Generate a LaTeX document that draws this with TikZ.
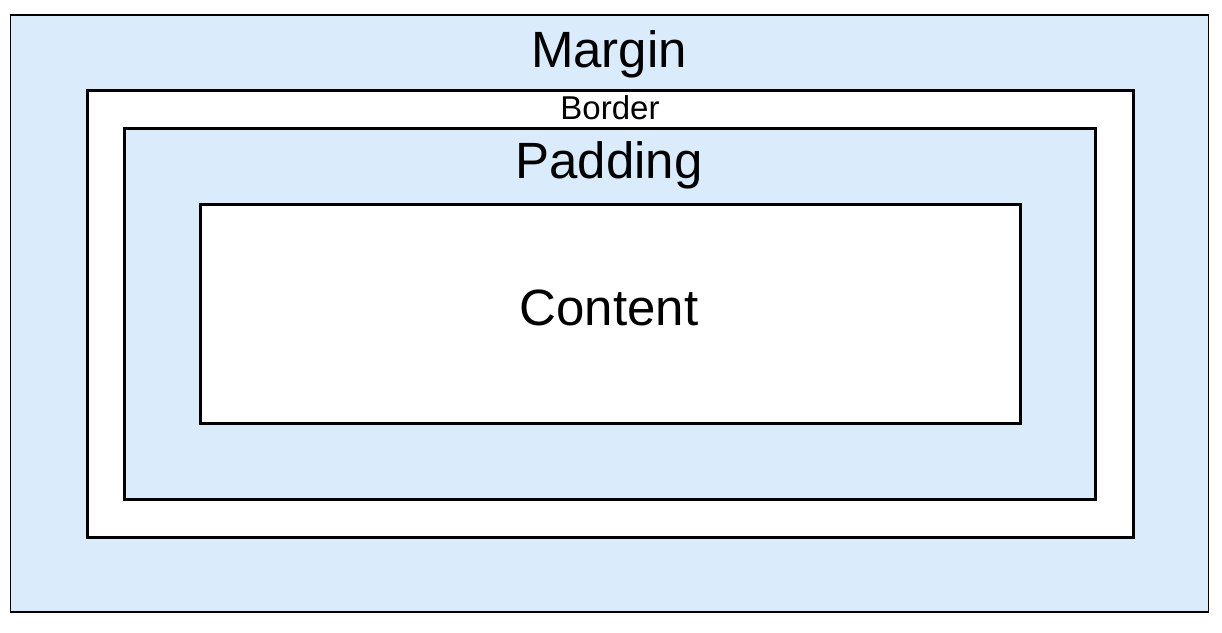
\documentclass[tikz,border=0pt]{standalone}
\usepackage{fontspec}
\setmainfont{Liberation Sans}
\definecolor{boxblue}{RGB}{218,235,252}
\tikzset{
  layer/.style={draw=black, line width=3pt},
  biglabel/.style={anchor=base, font=\fontsize{51}{54}\selectfont, inner sep=0pt},
  smalllabel/.style={anchor=base, font=\fontsize{33}{35}\selectfont, inner sep=0pt}
}
\begin{document}
\begin{tikzpicture}[x=1pt,y=-1pt]
\useasboundingbox (0,0) rectangle (1222,632);
\fill[white] (0,0) rectangle (1222,632);

\path[fill=boxblue,draw=black,line width=1.5pt] (10.5,15) rectangle (1208.5,612);
\path[fill=white,layer] (87,90) rectangle (1133,537);
\path[fill=boxblue,layer] (124,128) rectangle (1095,499);
\path[fill=white,layer] (200,204) rectangle (1020,423);

\node[biglabel] (margin) at (609,67) {Margin};
\node[smalllabel] (border) at (610,119) {Border};
\node[biglabel] (padding) at (609,178) {Padding};
\node[biglabel] (content) at (609,325) {Content};
\end{tikzpicture}
\end{document}
